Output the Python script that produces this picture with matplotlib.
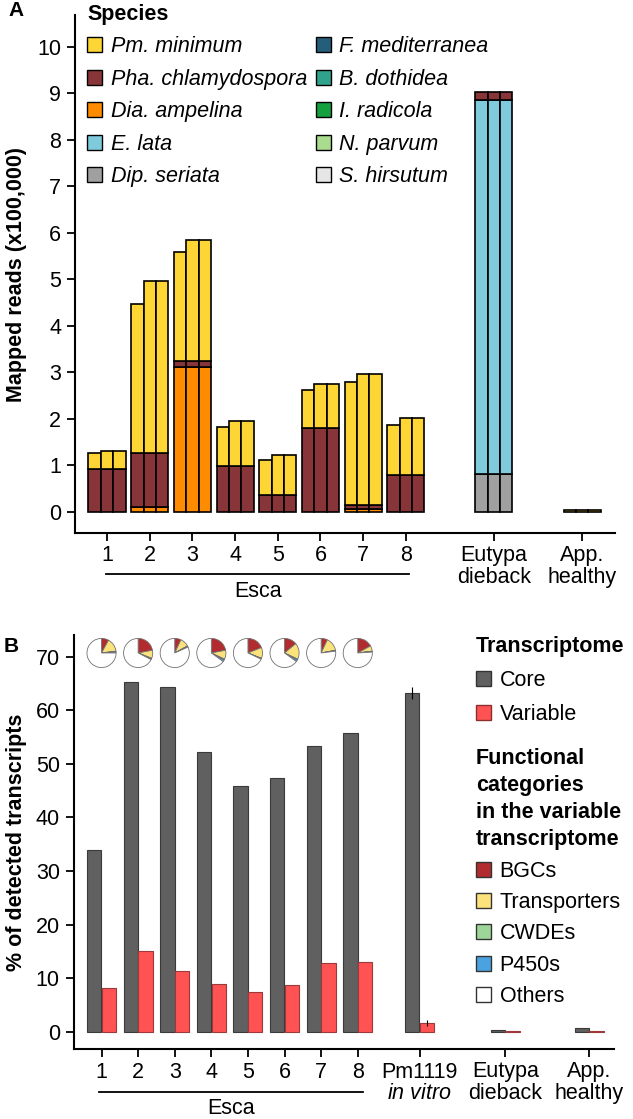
import numpy as np
import matplotlib
matplotlib.use("Agg")
import matplotlib.pyplot as plt
from matplotlib.patches import Patch
from matplotlib import transforms

plt.rcParams['font.family'] = ['Liberation Sans', 'DejaVu Sans']
plt.rcParams['mathtext.fontset'] = 'custom'
plt.rcParams['mathtext.it'] = 'Liberation Sans:italic'
plt.rcParams['mathtext.rm'] = 'Liberation Sans'

# ---------------- panel A data ----------------
groups_a = ['1', '2', '3', '4', '5', '6', '7', '8', 'Eutypa\ndieback', 'App.\nhealthy']
# three replicates per group, layer heights (x100,000 reads), stacked bottom -> top
dip_seriata = [[0, 0, 0]] * 8 + [[0.81, 0.81, 0.81], [0, 0, 0]]
e_lata = [[0, 0, 0]] * 8 + [[8.04, 8.04, 8.04], [0, 0, 0]]
dia_ampelina = [[0, 0, 0], [0.10, 0.10, 0.10], [3.12, 3.12, 3.12], [0, 0, 0], [0, 0, 0],
                [0, 0, 0], [0.05, 0.05, 0.05], [0, 0, 0], [0, 0, 0], [0, 0, 0]]
pha_chlamydospora = [[0.92, 0.92, 0.92], [1.15, 1.15, 1.15], [0.12, 0.12, 0.12],
                     [0.99, 0.99, 0.99], [0.36, 0.36, 0.36], [1.80, 1.80, 1.80],
                     [0.09, 0.09, 0.09], [0.79, 0.79, 0.79], [0.17, 0.17, 0.17], [0, 0, 0]]
pm_minimum = [[0.34, 0.38, 0.39], [3.22, 3.72, 3.72], [2.34, 2.61, 2.61],
              [0.82, 0.95, 0.95], [0.74, 0.86, 0.86], [0.81, 0.94, 0.94],
              [2.64, 2.81, 2.81], [1.07, 1.22, 1.23], [0, 0, 0], [0.03, 0.03, 0.03]]

species_names = ['Pm. minimum', 'Pha. chlamydospora', 'Dia. ampelina', 'E. lata', 'Dip. seriata',
                 'F. mediterranea', 'B. dothidea', 'I. radicola', 'N. parvum', 'S. hirsutum']
species_colors = ['#FDD535', '#873538', '#FF8C00', '#7FCBDD', '#A0A0A0',
                  '#245E7A', '#2FA38C', '#15A040', '#A9DC8C', '#E6E6E6']

# ---------------- panel B data ----------------
groups_b = ['1', '2', '3', '4', '5', '6', '7', '8', 'Pm1119\n$\\mathit{in\\ vitro}$',
            'Eutypa\ndieback', 'App.\nhealthy']
core = [33.9, 65.3, 64.3, 52.2, 45.8, 47.4, 53.3, 55.7, 63.2, 0.3, 0.7]
variable = [8.1, 15.0, 11.4, 8.9, 7.4, 8.7, 12.8, 13.0, 1.6, 0.1, 0.2]
core_err = [0, 0, 0, 0, 0, 0, 0, 0, 1.1, 0, 0]
variable_err = [0, 0, 0, 0, 0, 0, 0, 0, 0.5, 0, 0]

# functional categories of the variable transcriptome (% per Esca sample)
bgcs = [8, 22, 7, 22, 19, 14, 7, 17]
transporters = [15, 9, 10, 10, 12, 18, 15, 6]
cwdes = [0.5, 0.5, 0.3, 1, 0.3, 1, 0.3, 0.3]
p450s = [1.5, 1, 1, 2, 0.7, 2, 0.7, 0.7]
cat_names = ['BGCs', 'Transporters', 'CWDEs', 'P450s', 'Others']
cat_colors = ['#B22B2F', '#FBE27A', '#9ED69A', '#4AA3DF', 'white']

fs = 15.5
W, H = 633, 1119
fig = plt.figure(figsize=(W / 100, H / 100), dpi=100)

# ================= panel A =================
axA = fig.add_axes([75 / W, 1 - 533 / H, 540 / W, 518 / H])
xa = np.array([1, 2, 3, 4, 5, 6, 7, 8, 10.06, 12.13])
offs = [-0.29, 0, 0.29]
layers = [(dip_seriata, species_colors[4]), (e_lata, species_colors[3]),
          (dia_ampelina, species_colors[2]), (pha_chlamydospora, species_colors[1]),
          (pm_minimum, species_colors[0])]
for r in range(3):
    bottom = np.zeros(len(xa))
    for vals, col in layers:
        h = np.array([v[r] for v in vals])
        m = h > 0
        axA.bar(xa[m] + offs[r], h[m], 0.29, bottom=bottom[m], color=col,
                edgecolor='black', linewidth=1.2)
        bottom += h

axA.set_xlim(0.25, 12.9)
axA.set_ylim(-0.46, 10.68)
axA.set_yticks(range(0, 11))
axA.set_xticks(xa, groups_a)
for s in ['top', 'right']:
    axA.spines[s].set_visible(False)
for s in ['left', 'bottom']:
    axA.spines[s].set_linewidth(1.5)
axA.tick_params(labelsize=fs, length=6, width=1.3)
axA.tick_params(axis='x', pad=3)
axA.tick_params(axis='y', pad=4)
plt.setp(axA.get_xticklabels(), linespacing=1.05)
axA.set_ylabel('Mapped reads (x100,000)', fontsize=fs, fontweight='bold')
axA.yaxis.set_label_coords(-0.089, 0.5)

trA = transforms.blended_transform_factory(axA.transData, axA.transAxes)
axA.plot([0.98, 8.08], [-0.079, -0.079], transform=trA, color='black', lw=1.3, clip_on=False)
axA.text(4.53, -0.112, 'Esca', transform=trA, ha='center', va='center', fontsize=fs)

legA = fig.legend(handles=[Patch(facecolor=c, edgecolor='black', linewidth=1) for c in species_colors],
                  labels=species_names, ncol=2, loc='upper left',
                  bbox_to_anchor=(87 / W, 1 - 4 / H), frameon=False, borderpad=0,
                  borderaxespad=0,
                  handlelength=0.7, handleheight=0.7, handletextpad=0.4,
                  labelspacing=0.53, columnspacing=0.4,
                  prop={'style': 'italic', 'size': fs},
                  title='Species', title_fontproperties={'weight': 'bold', 'size': fs},
                  alignment='left')

# ================= panel B =================
axB = fig.add_axes([73.7 / W, 1 - 1049 / H, 540.3 / W, 413.7 / H])
xb = np.array([1, 2, 3, 4, 5, 6, 7, 8, 9.69, 12.03, 14.32])
axB.bar(xb - 0.2, core, 0.39, color='#606060', edgecolor='#3A3A3A', linewidth=0.8,
        yerr=core_err, error_kw={'elinewidth': 0.8, 'capsize': 0, 'ecolor': 'black'})
axB.bar(xb + 0.2, variable, 0.39, color='#FF5252', edgecolor='#9A3A3A', linewidth=0.8,
        yerr=variable_err, error_kw={'elinewidth': 0.8, 'capsize': 0, 'ecolor': 'black'})

axB.set_xlim(0.24, 15.0)
axB.set_ylim(-3.23, 74)
axB.set_yticks(range(0, 71, 10))
axB.set_xticks(xb, groups_b)
for s in ['top', 'right']:
    axB.spines[s].set_visible(False)
for s in ['left', 'bottom']:
    axB.spines[s].set_linewidth(1.5)
axB.tick_params(labelsize=fs, length=6, width=1.3)
axB.tick_params(axis='x', pad=3)
axB.tick_params(axis='y', pad=4)
plt.setp(axB.get_xticklabels(), linespacing=1.05)
axB.set_ylabel('% of detected transcripts', fontsize=fs, fontweight='bold')
axB.yaxis.set_label_coords(-0.086, 0.5)

trB = transforms.blended_transform_factory(axB.transData, axB.transAxes)
axB.plot([0.92, 8.14], [-0.104, -0.104], transform=trB, color='black', lw=1.3, clip_on=False)
axB.text(4.53, -0.143, 'Esca', transform=trB, ha='center', va='center', fontsize=fs)

# pies above the Esca bars
for i in range(8):
    others = 100 - bgcs[i] - transporters[i] - cwdes[i] - p450s[i]
    pax = axB.inset_axes([xb[i] - 0.41, 70.7 - 2.8, 0.82, 5.6], transform=axB.transData)
    pax.pie([bgcs[i], transporters[i], cwdes[i], p450s[i], others], colors=cat_colors,
            startangle=90, counterclock=False,
            wedgeprops={'edgecolor': '#707070', 'linewidth': 0.6})
    pax.set_xlim(-1.03, 1.03)
    pax.set_ylim(-1.03, 1.03)
    pax.set_aspect('equal')
    pax.axis('off')

leg1 = fig.legend(handles=[Patch(facecolor='#606060', edgecolor='#333333'),
                           Patch(facecolor='#FF5252', edgecolor='#8B3030')],
                  labels=['Core', 'Variable'], loc='upper left',
                  bbox_to_anchor=(476 / W, 1 - 636 / H), frameon=False, borderpad=0,
                  borderaxespad=0,
                  handlelength=0.7, handleheight=0.7, handletextpad=0.4,
                  labelspacing=0.6, fontsize=fs,
                  title='Transcriptome', title_fontproperties={'weight': 'bold', 'size': fs},
                  alignment='left')
leg2 = fig.legend(handles=[Patch(facecolor=c, edgecolor='#333333') for c in cat_colors],
                  labels=cat_names, loc='upper left',
                  bbox_to_anchor=(476 / W, 1 - 748 / H), frameon=False, borderpad=0,
                  borderaxespad=0,
                  handlelength=0.7, handleheight=0.7, handletextpad=0.4,
                  labelspacing=0.48, fontsize=fs,
                  title='Functional\ncategories\nin the variable\ntranscriptome',
                  title_fontproperties={'weight': 'bold', 'size': fs},
                  alignment='left')
leg2.get_title().set_linespacing(1.38)

fig.text(8 / W, 1 - 10 / H, 'A', fontsize=15, fontweight='bold', ha='left', va='center')
fig.text(4 / W, 1 - 646 / H, 'B', fontsize=15, fontweight='bold', ha='left', va='center')

fig.savefig('out.png', dpi=100)
